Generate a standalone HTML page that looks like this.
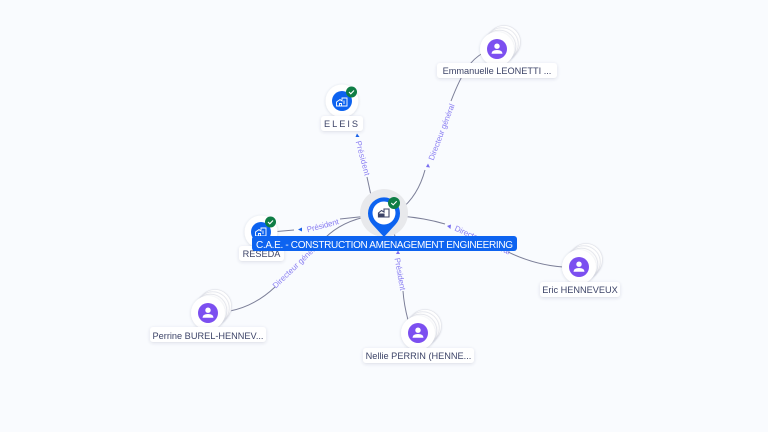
<!DOCTYPE html>
<html><head><meta charset="utf-8"><style>
html,body{margin:0;padding:0;background:#f9fbfe;width:768px;height:432px;overflow:hidden}
svg{display:block;font-family:"Liberation Sans",sans-serif}
.e{fill:none;stroke:#7c7f98;stroke-width:1}
.l{font-size:8px;fill:#8a7ef2;letter-spacing:.25px;dominant-baseline:central}
.n{font-size:9.2px;fill:#3d4468;text-anchor:middle}
.box{fill:#fff;filter:url(#s)}
.c{fill:#fff;filter:url(#s2)}
.b{fill:#fff;stroke:#e4e6ec;stroke-width:.8;filter:url(#s3)}
.ck{fill:none;stroke:#fff;stroke-width:1.1}
.ic{fill:none;stroke:#fff;stroke-width:.9}
</style></head><body>
<svg width="768" height="432" viewBox="0 0 768 432" xmlns="http://www.w3.org/2000/svg">
<defs>
<filter id="s" x="-20%" y="-40%" width="140%" height="200%"><feDropShadow dx="0" dy="1" stdDeviation="1.500" flood-color="#3d4468" flood-opacity=".16"/></filter>
<filter id="s2" x="-30%" y="-30%" width="160%" height="160%"><feDropShadow dx="0" dy="0.500" stdDeviation="1.200" flood-color="#3d4468" flood-opacity=".2"/></filter>
<filter id="s3" x="-30%" y="-30%" width="160%" height="160%"><feDropShadow dx="0" dy="0.500" stdDeviation=".8" flood-color="#3d4468" flood-opacity=".14"/></filter>
</defs>
<rect width="768" height="432" fill="#f9fbfe"/>

<!-- edges -->
<path class="e" d="M372 200 L367 177"/>
<path class="e" d="M400 210 Q418 196 425 170"/>
<path class="e" d="M451 101 Q460 78 467 68 Q474 58 483 53"/>
<path class="e" d="M368 216 L340 219"/>
<path class="e" d="M294 230 L277 231.500"/>
<path class="e" d="M370 216 Q342 221 325 238"/>
<path class="e" d="M275 287 Q255 306 230 311"/>
<path class="e" d="M400 216 Q425 218 445 224"/>
<path class="e" d="M508 252 Q535 265 563 267"/>
<path class="e" d="M393 226 L397 248"/>
<path class="e" d="M403 291 Q404 305 408 320"/>

<!-- edge labels -->
<path d="M357 133.500 L359.500 137 L355.500 137 Z" fill="#1a62e8"/>
<text class="l" transform="translate(358,141) rotate(75)" textLength="36">Président</text>
<path d="M428 163.500 L430 167.500 L426 167 Z" fill="#7a6ff0"/>
<text class="l" transform="translate(431,160) rotate(-69)" textLength="60">Directeur général</text>
<path d="M298 229.500 L302 227.500 L302 231.500 Z" fill="#1a62e8"/>
<text class="l" transform="translate(307,230) rotate(-15)" textLength="33">Président</text>
<text class="l" transform="translate(274,287) rotate(-44)" textLength="62">Directeur général</text>
<path d="M447 226 L451 224.500 L450.500 229 Z" fill="#7a6ff0"/>
<text class="l" transform="translate(455,228) rotate(24)" textLength="60">Directeur général</text>
<path d="M398 250.500 L400 254 L396 254 Z" fill="#7a6ff0"/>
<text class="l" transform="translate(397,258) rotate(80)" textLength="33">Président</text>

<!-- ELEIS -->
<circle class="c" cx="342" cy="101" r="16.500"/>
<circle cx="342" cy="101" r="10" fill="#0d63f0"/>
<g class="ic" transform="translate(342,102)"><path d="M-5.500 4 V0 L-2 -2.500 L0 -1 V-4 H5 V4 Z M-5.500 4 H5 M-2.500 4 V1.500 H-.5 V4 M2 -1.500 V2"/></g>
<circle cx="351.500" cy="92" r="5.500" fill="#0e7d45"/>
<path class="ck" d="M349 92 L350.800 93.800 L354 90.500"/>
<rect class="box" x="321" y="116" width="42" height="15" rx="3"/>
<text class="n" x="342" y="127" letter-spacing="2">ELEIS</text>

<!-- RESEDA -->
<circle class="c" cx="261" cy="232" r="16.500"/>
<circle cx="261" cy="232" r="10" fill="#0d63f0"/>
<g class="ic" transform="translate(261,232)"><path d="M-5.500 4 V0 L-2 -2.500 L0 -1 V-4 H5 V4 Z M-5.500 4 H5 M-2.500 4 V1.500 H-.5 V4 M2 -1.500 V2"/></g>
<circle cx="270.500" cy="222" r="5.500" fill="#0e7d45"/>
<path class="ck" d="M268 222 L269.800 223.800 L273 220.500"/>
<rect class="box" x="239" y="246" width="45" height="15" rx="3"/>
<text class="n" x="261.500" y="257">RESEDA</text>

<!-- Emmanuelle -->
<circle class="b" cx="504" cy="42" r="16.500"/><circle class="b" cx="501.700" cy="44.300" r="16.500"/><circle class="b" cx="499.300" cy="46.700" r="16.500"/>
<circle class="c" cx="497" cy="49" r="17"/>
<circle cx="497" cy="49" r="10" fill="#7c4ff0"/>
<circle cx="497" cy="46.200" r="2.700" fill="#fff"/><path d="M491.500 53.800 Q491.500 50 497 50 Q502.500 50 502.500 53.800 Z" fill="#fff"/>
<rect class="box" x="437" y="63" width="120" height="15" rx="3"/>
<text class="n" x="497" y="74">Emmanuelle LEONETTI ...</text>

<!-- Perrine -->
<circle class="b" cx="215" cy="306" r="16.500"/><circle class="b" cx="212.700" cy="308.300" r="16.500"/><circle class="b" cx="210.300" cy="310.700" r="16.500"/>
<circle class="c" cx="208" cy="313" r="17"/>
<circle cx="208" cy="313" r="10" fill="#7c4ff0"/>
<circle cx="208" cy="310.200" r="2.700" fill="#fff"/><path d="M202.500 317.800 Q202.500 314 208 314 Q213.500 314 213.500 317.800 Z" fill="#fff"/>
<rect class="box" x="150" y="327" width="116" height="15" rx="3"/>
<text class="n" x="208" y="339">Perrine BUREL-HENNEV...</text>

<!-- Nellie -->
<circle class="b" cx="425" cy="326" r="16.500"/><circle class="b" cx="422.700" cy="328.300" r="16.500"/><circle class="b" cx="420.300" cy="330.700" r="16.500"/>
<circle class="c" cx="418" cy="333" r="17"/>
<circle cx="418" cy="333" r="10" fill="#7c4ff0"/>
<circle cx="418" cy="330.200" r="2.700" fill="#fff"/><path d="M412.500 337.800 Q412.500 334 418 334 Q423.500 334 423.500 337.800 Z" fill="#fff"/>
<rect class="box" x="363" y="348" width="111" height="15" rx="3"/>
<text class="n" x="418.500" y="359">Nellie PERRIN (HENNE...</text>

<!-- Eric -->
<circle class="b" cx="586" cy="260" r="16.500"/><circle class="b" cx="583.700" cy="262.300" r="16.500"/><circle class="b" cx="581.300" cy="264.700" r="16.500"/>
<circle class="c" cx="579" cy="267" r="17"/>
<circle cx="579" cy="267" r="10" fill="#7c4ff0"/>
<circle cx="579" cy="264.200" r="2.700" fill="#fff"/><path d="M573.500 271.800 Q573.500 268 579 268 Q584.500 268 584.500 271.800 Z" fill="#fff"/>
<rect class="box" x="540" y="282" width="80" height="15" rx="3"/>
<text class="n" x="580" y="293">Eric HENNEVEUX</text>

<!-- Center -->
<circle cx="384" cy="213" r="24" fill="#e8e9ec"/>
<path d="M384 237 L372.500 224.500 A16 16 0 1 1 395.500 224.500 Z" fill="#0d63f0"/>
<circle cx="384" cy="213" r="11.500" fill="#fff"/>
<g transform="translate(384,213)" fill="none" stroke="#3d4468" stroke-width="1.100"><path d="M-5.500 4 V0 L-2.500 -2.500 L0 -1 V-4 H5 V4 Z"/><path d="M-5.500 1 H0 V4 H-5.500 Z" fill="#3d4468"/></g>
<circle cx="394" cy="203" r="6" fill="#0e7d45"/>
<path class="ck" d="M391.300 203 L393.200 204.900 L396.700 201.300"/>
<rect x="252" y="236" width="265" height="15" rx="3" fill="#0d63f0"/>
<text x="384.500" y="248" font-size="10" fill="#fff" text-anchor="middle" textLength="257" lengthAdjust="spacing">C.A.E. - CONSTRUCTION AMENAGEMENT ENGINEERING</text>
</svg>
</body></html>
